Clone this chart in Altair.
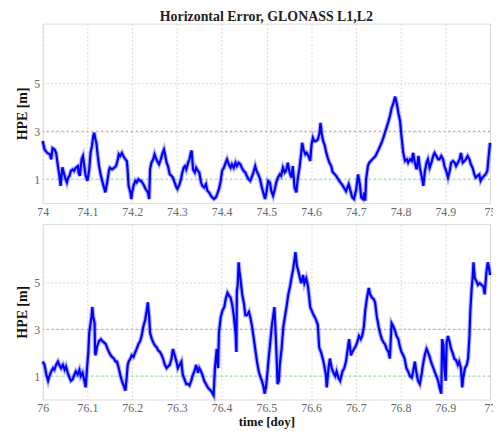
import altair as alt
import pandas as pd

# ---------------- data ----------------
t_top = [74.000, 74.004, 74.010, 74.016, 74.019, 74.022, 74.026, 74.030, 74.034, 74.037,
         74.040, 74.044, 74.047, 74.050, 74.054, 74.057, 74.060, 74.063, 74.067, 74.070,
         74.074, 74.079, 74.080, 74.083, 74.087, 74.090, 74.093, 74.096, 74.100, 74.104,
         74.107, 74.110, 74.113, 74.115, 74.118, 74.120, 74.123, 74.126, 74.130, 74.133,
         74.137, 74.140, 74.144, 74.148, 74.150, 74.155, 74.160, 74.164, 74.168, 74.170,
         74.173, 74.177, 74.180, 74.185, 74.188, 74.190, 74.192, 74.196, 74.198, 74.200,
         74.203, 74.207, 74.210, 74.214, 74.218, 74.220, 74.225, 74.230, 74.235, 74.238,
         74.240, 74.243, 74.247, 74.250, 74.254, 74.258, 74.260, 74.264, 74.268, 74.271,
         74.274, 74.277, 74.280, 74.284, 74.288, 74.291, 74.295, 74.299, 74.301, 74.306,
         74.310, 74.311, 74.315, 74.318, 74.321, 74.325, 74.328, 74.331, 74.333, 74.336,
         74.340, 74.343, 74.347, 74.350, 74.354, 74.357, 74.361, 74.365, 74.368, 74.372,
         74.376, 74.379, 74.383, 74.387, 74.390, 74.394, 74.398, 74.401, 74.405, 74.409,
         74.412, 74.416, 74.420, 74.423, 74.427, 74.431, 74.434, 74.438, 74.442, 74.445,
         74.449, 74.453, 74.456, 74.460, 74.464, 74.467, 74.471, 74.475, 74.478, 74.482,
         74.486, 74.489, 74.493, 74.497, 74.500, 74.504, 74.508, 74.511, 74.515, 74.519,
         74.522, 74.526, 74.530, 74.533, 74.537, 74.541, 74.544, 74.548, 74.552, 74.556,
         74.559, 74.563, 74.567, 74.570, 74.574, 74.578, 74.580, 74.583, 74.587, 74.590,
         74.594, 74.598, 74.601, 74.604, 74.607, 74.611, 74.615, 74.619, 74.621, 74.624,
         74.627, 74.630, 74.634, 74.637, 74.641, 74.645, 74.648, 74.656, 74.663, 74.670,
         74.678, 74.684, 74.689, 74.692, 74.696, 74.701, 74.705, 74.709, 74.712, 74.716,
         74.719, 74.721, 74.723, 74.727, 74.730, 74.737, 74.744, 74.751, 74.759, 74.766,
         74.773, 74.777, 74.780, 74.784, 74.788, 74.792, 74.795, 74.799, 74.802, 74.806,
         74.810, 74.814, 74.817, 74.821, 74.825, 74.828, 74.832, 74.836, 74.840, 74.843,
         74.847, 74.851, 74.854, 74.858, 74.861, 74.865, 74.869, 74.873, 74.876, 74.880,
         74.884, 74.887, 74.891, 74.895, 74.898, 74.902, 74.906, 74.910, 74.913, 74.917,
         74.921, 74.924, 74.928, 74.932, 74.935, 74.939, 74.943, 74.946, 74.950, 74.954,
         74.957, 74.961, 74.965, 74.968, 74.972, 74.976, 74.979, 74.983, 74.987, 74.990,
         74.994, 74.997, 75.000]
hpe_top = [2.6, 2.25, 2.1, 2.04, 1.83, 2.3, 2.25, 2.1, 1.55, 1.2,
           0.72, 1.5, 1.28, 1.07, 0.86, 1.07, 1.14, 1.35, 1.41, 1.35,
           1.48, 1.55, 1.28, 1.14, 1.83, 1.97, 1.55, 1.14, 0.93, 1.41,
           2.1, 2.38, 2.8, 2.94, 2.66, 2.52, 1.97, 1.55, 1.14, 0.93,
           0.65, 0.45, 0.86, 1.35, 1.48, 1.41, 1.48, 1.55, 1.83, 2.04,
           1.97, 2.1, 1.97, 1.83, 1.76, 1.35, 0.72, 0.45, 0.17, 0.45,
           0.72, 0.93, 0.86, 1.0, 0.93, 0.93, 0.79, 0.59, 0.45, 0.17,
           1.41, 1.69, 1.83, 2.04, 1.83, 1.69, 1.62, 1.83, 2.1, 2.24,
           1.97, 1.69, 1.55, 1.2, 1.14, 1.07, 0.86, 0.65, 0.59, 0.79,
           1.07, 1.2, 1.48, 1.55, 1.41, 1.69, 1.83, 2.1, 2.2, 1.41,
           1.28, 1.48, 1.35, 1.28, 0.86, 0.72, 0.65, 0.79, 0.52, 0.45,
           0.31, 0.24, 0.17, 0.24, 0.38, 0.59, 0.93, 1.35, 1.48, 1.69,
           1.83, 1.62, 1.48, 1.62, 1.48, 1.69, 1.55, 1.69, 1.62, 1.48,
           1.35, 1.28, 1.14, 1.0, 0.93, 1.07, 1.28, 1.55, 1.35, 1.2,
           1.0, 0.72, 0.45, 0.17, 0.45, 0.93, 0.86, 0.52, 0.31, 0.59,
           0.86, 1.07, 1.2, 1.14, 1.48, 1.28, 1.35, 1.69, 1.28, 1.07,
           1.55, 0.65, 0.45, 1.0, 1.48, 2.1, 2.52, 2.24, 2.04, 2.1,
           1.97, 1.76, 2.45, 2.73, 2.59, 2.59, 2.66, 2.94, 3.35, 2.87,
           2.59, 2.45, 2.1, 1.9, 1.69, 1.55, 1.3, 1.14, 0.93, 0.75,
           0.5, 0.79, 0.45, 0.24, 0.17, 0.59, 1.2, 0.79, 0.24, 0.17,
           0.45, 0.1, 1.0, 1.55, 1.69, 1.83, 1.97, 2.24, 2.59, 3.0,
           3.42, 3.7, 3.97, 4.18, 4.45, 4.11, 3.77, 3.42, 2.8, 2.1,
           1.76, 1.83, 1.69, 1.83, 1.76, 2.1, 1.69, 1.41, 1.97, 1.48,
           1.14, 0.72, 1.28, 1.69, 1.83, 1.48, 1.69, 1.97, 2.1, 1.97,
           1.83, 1.83, 1.97, 1.83, 1.55, 1.35, 1.07, 1.35, 1.69, 1.76,
           1.69, 1.55, 1.69, 1.83, 2.1, 1.69, 1.76, 1.83, 1.97, 1.83,
           1.62, 1.48, 1.2, 1.07, 1.14, 1.2, 0.93, 1.07, 1.14, 1.2,
           1.35, 1.97, 2.52]

t_bot = [76.000, 76.004, 76.008, 76.012, 76.015, 76.019, 76.023, 76.026, 76.030, 76.034,
         76.037, 76.041, 76.045, 76.049, 76.052, 76.056, 76.060, 76.063, 76.067, 76.071,
         76.074, 76.078, 76.082, 76.085, 76.089, 76.093, 76.096, 76.099, 76.102, 76.104,
         76.106, 76.109, 76.111, 76.113, 76.116, 76.117, 76.118, 76.122, 76.126, 76.130,
         76.133, 76.137, 76.141, 76.145, 76.148, 76.152, 76.155, 76.159, 76.163, 76.166,
         76.170, 76.174, 76.177, 76.181, 76.185, 76.187, 76.190, 76.192, 76.196, 76.199,
         76.203, 76.207, 76.210, 76.214, 76.218, 76.221, 76.225, 76.229, 76.232, 76.235,
         76.238, 76.240, 76.244, 76.247, 76.251, 76.255, 76.258, 76.262, 76.266, 76.269,
         76.273, 76.277, 76.280, 76.284, 76.288, 76.291, 76.295, 76.299, 76.302, 76.306,
         76.310, 76.313, 76.317, 76.321, 76.325, 76.328, 76.332, 76.336, 76.339, 76.343,
         76.347, 76.350, 76.354, 76.358, 76.361, 76.365, 76.369, 76.372, 76.376, 76.380,
         76.382, 76.385, 76.387, 76.389, 76.392, 76.394, 76.398, 76.402, 76.406, 76.409,
         76.413, 76.417, 76.420, 76.424, 76.427, 76.431, 76.433, 76.434, 76.436, 76.438,
         76.440, 76.442, 76.446, 76.450, 76.453, 76.457, 76.461, 76.464, 76.468, 76.472,
         76.475, 76.479, 76.483, 76.486, 76.490, 76.494, 76.496, 76.499, 76.502, 76.505,
         76.508, 76.512, 76.515, 76.518, 76.521, 76.523, 76.525, 76.528, 76.530, 76.534,
         76.538, 76.542, 76.545, 76.549, 76.553, 76.556, 76.560, 76.563, 76.565, 76.568,
         76.572, 76.575, 76.578, 76.582, 76.585, 76.589, 76.593, 76.595, 76.598, 76.601,
         76.604, 76.608, 76.611, 76.615, 76.618, 76.622, 76.626, 76.629, 76.633, 76.635,
         76.639, 76.642, 76.646, 76.650, 76.654, 76.657, 76.661, 76.665, 76.670, 76.674,
         76.678, 76.681, 76.685, 76.689, 76.692, 76.696, 76.700, 76.703, 76.707, 76.711,
         76.714, 76.718, 76.721, 76.725, 76.729, 76.732, 76.736, 76.740, 76.743, 76.747,
         76.751, 76.754, 76.758, 76.762, 76.765, 76.769, 76.773, 76.776, 76.780, 76.784,
         76.788, 76.791, 76.795, 76.798, 76.802, 76.806, 76.809, 76.813, 76.817, 76.821,
         76.825, 76.828, 76.832, 76.835, 76.839, 76.843, 76.847, 76.850, 76.854, 76.858,
         76.861, 76.865, 76.868, 76.872, 76.876, 76.880, 76.884, 76.887, 76.891, 76.893,
         76.896, 76.898, 76.901, 76.903, 76.906, 76.909, 76.913, 76.917, 76.920, 76.924,
         76.928, 76.931, 76.935, 76.938, 76.940, 76.944, 76.948, 76.951, 76.954, 76.956,
         76.959, 76.961, 76.963, 76.966, 76.970, 76.973, 76.977, 76.981, 76.985, 76.988,
         76.992, 76.995, 76.998, 77.000]
hpe_bot = [1.62, 1.48, 1.07, 0.8, 1.0, 1.2, 1.34, 1.27, 1.48, 1.62,
           1.48, 1.34, 1.48, 1.27, 1.41, 1.14, 0.93, 0.8, 0.86, 1.07,
           1.2, 1.07, 1.27, 1.0, 1.14, 0.8, 0.52, 1.34, 2.03, 2.85,
           3.12, 3.53, 3.95, 3.53, 3.26, 2.03, 1.89, 2.3, 2.5, 2.58,
           2.5, 2.44, 2.37, 2.16, 2.03, 1.89, 1.82, 1.75, 1.62, 1.62,
           1.34, 1.0, 0.8, 0.59, 0.38, 0.8, 1.48, 1.62, 1.75, 1.89,
           1.82, 2.03, 2.16, 2.37, 2.5, 2.71, 3.12, 3.4, 3.74, 4.15,
           3.53, 2.85, 2.58, 2.44, 2.3, 2.23, 2.1, 2.03, 1.89, 1.75,
           1.48, 1.34, 1.41, 1.48, 1.75, 2.16, 1.89, 1.62, 1.34, 1.48,
           1.62, 1.07, 0.86, 0.66, 0.66, 0.6, 0.8, 1.07, 1.2, 1.48,
           1.14, 1.34, 1.2, 1.0, 0.8, 0.66, 0.52, 0.45, 0.38, 0.25,
           0.18, 1.34, 1.75, 2.16, 1.34, 2.85, 3.53, 3.81, 3.95, 4.29,
           4.56, 4.42, 4.36, 4.01, 3.6, 2.85, 2.03, 4.63, 4.9, 5.86,
           5.45, 5.18, 4.49, 4.08, 3.6, 3.6, 3.74, 3.53, 3.12, 2.58,
           2.16, 1.62, 1.2, 1.0, 0.8, 0.52, 0.25, 0.52, 1.07, 1.75,
           2.3, 3.12, 3.53, 3.95, 2.71, 1.75, 0.66, 0.8, 1.48, 2.16,
           3.12, 3.6, 3.95, 4.49, 4.84, 5.18, 5.59, 6.0, 6.3, 5.73,
           5.45, 5.18, 4.97, 5.32, 4.97, 5.18, 4.84, 4.49, 3.95, 3.81,
           3.67, 3.53, 3.4, 3.19, 2.23, 2.03, 1.75, 1.48, 1.07, 0.52,
           1.34, 1.75, 1.34, 1.14, 1.0, 1.2, 0.93, 0.8, 1.2, 1.34,
           1.62, 2.03, 2.58, 1.89, 2.03, 2.16, 2.3, 2.44, 2.71, 2.58,
           2.71, 3.12, 3.81, 4.36, 4.77, 4.49, 4.36, 4.29, 4.15, 3.53,
           3.12, 2.85, 2.58, 2.44, 2.37, 2.16, 2.03, 1.75, 3.26, 3.12,
           2.92, 2.71, 2.58, 2.3, 2.03, 1.89, 1.75, 1.34, 1.2, 1.0,
           0.93, 1.2, 1.62, 1.2, 0.8, 0.66, 1.07, 1.48, 1.89, 2.16,
           2.03, 1.82, 1.62, 1.41, 1.2, 1.0, 0.8, 0.52, 0.25, 2.58,
           2.3, 1.34, 0.8, 2.44, 2.71, 2.5, 2.16, 1.96, 1.75, 1.68,
           1.48, 1.62, 1.34, 0.52, 0.93, 1.34, 1.48, 1.75, 2.71, 3.81,
           4.77, 5.18, 5.86, 5.18, 5.04, 4.9, 4.97, 4.9, 4.84, 4.49,
           5.45, 5.86, 5.59, 5.32]

x_ticks_top = [74.0, 74.1, 74.2, 74.3, 74.4, 74.5, 74.6, 74.7, 74.8, 74.9, 75.0]
x_ticks_bot = [76.0, 76.1, 76.2, 76.3, 76.4, 76.5, 76.6, 76.7, 76.8, 76.9, 77.0]
y_ticks = [1, 3, 5]
ref_levels = [3, 1]
ref_colors = ["#ff8c8c", "#8ce68c"]

TITLE = "Horizontal Error, GLONASS L1,L2"
Y_TITLE = "HPE [m]"
X_TITLE = "time [doy]"

SERIF = "Liberation Serif"

AXIS_STYLE = dict(
    labelFont=SERIF, labelFontSize=12, labelColor="#666666",
    titleFont=SERIF, titleFontWeight="bold", titleColor="#111111",
    ticks=False, domain=False,
    grid=True, gridColor="#d9d9d9", gridDash=[2, 2], gridWidth=1,
)


def panel(t, h, ticks, xtitle, height, title=False):
    df = pd.DataFrame({"t": t, "hpe": h})
    refs = pd.DataFrame({"hpe": ref_levels, "c": ref_colors})
    x = alt.X("t:Q", scale=alt.Scale(domain=[ticks[0], ticks[-1]], nice=False, zero=False),
              axis=alt.Axis(values=ticks, format=".1~f", labelFlush=False, labelPadding=3,
                            title=xtitle if xtitle else "", titlePadding=2,
                            titleFontSize=13, **AXIS_STYLE))
    y = alt.Y("hpe:Q", scale=alt.Scale(domain=[0, 7.5], nice=False),
              axis=alt.Axis(values=y_ticks, title=Y_TITLE, titlePadding=4, labelPadding=3,
                            titleFontSize=14, **AXIS_STYLE))
    rules = alt.Chart(refs).mark_rule(strokeDash=[2, 3], strokeWidth=1.2).encode(
        y=y, color=alt.Color("c:N", scale=None))
    halo = alt.Chart(df).mark_line(color="#0000ff", strokeWidth=4.5, opacity=0.3).encode(x=x, y=y)
    line = alt.Chart(df).mark_line(color="#0000ff", strokeWidth=2.2).encode(x=x, y=y)
    props = dict(width=451, height=height)
    if title:
        props["title"] = alt.TitleParams(TITLE, anchor="middle", font=SERIF, fontSize=14,
                                         fontWeight="bold", color="#222222", offset=0)
    return alt.layer(rules, halo, line).properties(**props)


top = panel(t_top, hpe_top, x_ticks_top, None, 181, title=True)
bot = panel(t_bot, hpe_bot, x_ticks_bot, X_TITLE, 177)

chart = alt.vconcat(top, bot, spacing=5).properties(
    padding={"left": 7, "top": -1, "right": -7, "bottom": 0}
).configure_view(stroke="#aaaaaa", strokeWidth=1).configure(background="white")

chart.save("out.html", embed_options={"renderer": "svg", "actions": False})
